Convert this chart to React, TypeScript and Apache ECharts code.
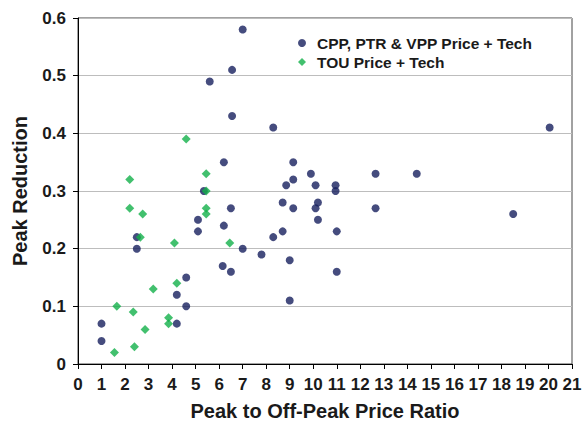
import React, { useEffect, useRef } from "react";
import * as echarts from "echarts";

const cppPtrVpp: [number, number][] = [
  [1.0, 0.07], [1.0, 0.04], [2.5, 0.22], [2.5, 0.2], [4.2, 0.07], [4.2, 0.12],
  [4.6, 0.15], [4.6, 0.1], [5.1, 0.25], [5.1, 0.23], [5.35, 0.3], [6.2, 0.35],
  [6.2, 0.24], [6.15, 0.17], [6.5, 0.27], [6.5, 0.16], [7.0, 0.2], [7.0, 0.58],
  [6.55, 0.51], [5.6, 0.49], [6.55, 0.43], [8.3, 0.41], [9.15, 0.35], [9.15, 0.32],
  [9.9, 0.33], [8.85, 0.31], [10.1, 0.31], [10.95, 0.31], [10.95, 0.3], [12.65, 0.33],
  [8.7, 0.28], [9.15, 0.27], [10.2, 0.28], [10.1, 0.27], [10.2, 0.25], [12.65, 0.27],
  [8.7, 0.23], [8.3, 0.22], [11.0, 0.23], [7.8, 0.19], [9.0, 0.18], [11.0, 0.16],
  [9.0, 0.11], [14.4, 0.33], [18.5, 0.26], [20.05, 0.41],
];

const touPrice: [number, number][] = [
  [1.55, 0.02], [1.65, 0.1], [2.2, 0.32], [2.2, 0.27], [2.35, 0.09], [2.4, 0.03],
  [2.65, 0.22], [2.75, 0.26], [2.85, 0.06], [3.2, 0.13], [3.85, 0.08], [3.85, 0.07],
  [4.1, 0.21], [4.2, 0.14], [4.6, 0.39], [5.45, 0.33], [5.45, 0.3], [5.45, 0.27],
  [5.45, 0.26], [6.45, 0.21],
];

const seriesNames = ["CPP, PTR & VPP Price + Tech", "TOU Price + Tech"];
const xTitle = "Peak to Off-Peak Price Ratio";
const yTitle = "Peak Reduction";

const FONT = "'Liberation Sans', Arial, Helvetica, sans-serif";
const NAVY = "#161f5e";
const GREEN = "#13b04a";

export default function App() {
  const ref = useRef<HTMLDivElement>(null);
  useEffect(() => {
    if (!ref.current) return;
    const chart = echarts.init(ref.current, null, { renderer: "svg" });
    chart.setOption({
      animation: false,
      backgroundColor: "#ffffff",
      grid: {
        left: 78,
        right: 13,
        top: 18,
        bottom: 63,
        show: true,
        borderColor: "#444",
        borderWidth: 1,
      },
      legend: {
        orient: "vertical",
        left: 293,
        top: 30,
        itemWidth: 8,
        itemHeight: 8,
        itemGap: 3,
        data: [
          { name: seriesNames[0], icon: "circle" },
          { name: seriesNames[1], icon: "diamond" },
        ],
        textStyle: {
          fontFamily: FONT,
          fontWeight: "bold",
          fontSize: 15.5,
          color: "#1a1a1a",
          lineHeight: 16,
          padding: [0, 0, 0, 6],
        },
      },
      xAxis: {
        type: "value",
        min: 0,
        max: 21,
        interval: 1,
        name: xTitle,
        nameLocation: "middle",
        nameGap: 37,
        nameTextStyle: {
          fontFamily: FONT,
          fontWeight: "bold",
          fontSize: 20,
          color: "#1a1a1a",
        },
        axisLine: { show: true, onZero: false, lineStyle: { color: "#000", width: 1 } },
        axisTick: { show: true, inside: false, length: 5, lineStyle: { color: "#000" } },
        axisLabel: {
          margin: 12,
          fontFamily: FONT,
          fontWeight: "bold",
          fontSize: 17,
          color: "#1a1a1a",
        },
        splitLine: { show: false },
      },
      yAxis: {
        type: "value",
        min: 0,
        max: 0.6,
        interval: 0.1,
        name: yTitle,
        nameLocation: "middle",
        nameGap: 48,
        nameTextStyle: {
          fontFamily: FONT,
          fontWeight: "bold",
          fontSize: 20,
          color: "#1a1a1a",
        },
        axisLine: { show: true, onZero: false, lineStyle: { color: "#000", width: 1 } },
        axisTick: { show: true, inside: false, length: 5, lineStyle: { color: "#000" } },
        axisLabel: {
          margin: 12,
          fontFamily: FONT,
          fontWeight: "bold",
          fontSize: 17,
          color: "#1a1a1a",
          formatter: (v: number) => (v === 0 ? "0" : v.toFixed(1)),
        },
        splitLine: { show: true, lineStyle: { color: "#bdbdbd", width: 1.2 } },
      },
      series: [
        {
          name: seriesNames[0],
          type: "scatter",
          symbol: "circle",
          symbolSize: 8,
          itemStyle: { color: NAVY },
          data: cppPtrVpp,
          z: 3,
        },
        {
          name: seriesNames[1],
          type: "scatter",
          symbol: "diamond",
          symbolSize: 9,
          itemStyle: { color: GREEN },
          data: touPrice,
          z: 4,
        },
      ],
    });
    return () => chart.dispose();
  }, []);
  return (
    <div
      ref={ref}
      style={{ position: "fixed", left: 0, top: 0, width: 585, height: 427, background: "#fff" }}
    />
  );
}
